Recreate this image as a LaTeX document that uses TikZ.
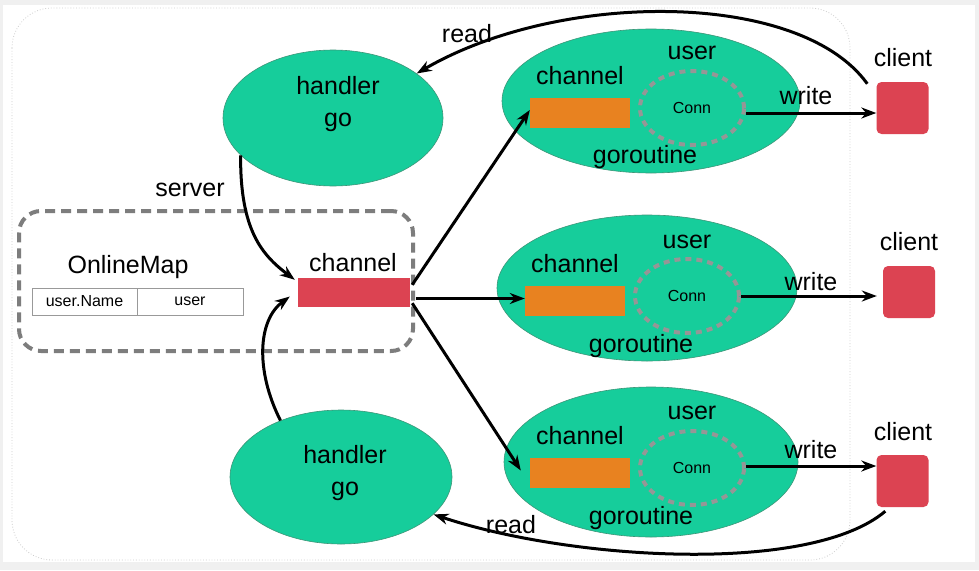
\documentclass[tikz,border=0pt]{standalone}
\usepackage{fontspec}
\setmainfont{Liberation Sans}
\usetikzlibrary{shapes.geometric,arrows.meta}
\definecolor{gr}{RGB}{22,205,155}
\definecolor{grb}{RGB}{60,150,120}
\definecolor{org}{RGB}{232,130,32}
\definecolor{rd}{RGB}{220,67,82}
\definecolor{dg}{RGB}{125,125,125}
\definecolor{dc}{RGB}{150,150,150}
\tikzset{
  big/.style={font=\fontsize{25}{28}\selectfont, inner sep=0pt},
  small/.style={font=\fontsize{16}{18}\selectfont, inner sep=0pt},
  gell/.style={ellipse, fill=gr, draw=grb, line width=0.6pt, inner sep=0pt},
  obox/.style={rectangle, fill=org, inner sep=0pt, minimum width=100pt, minimum height=30pt},
  rbox/.style={rectangle, fill=rd, rounded corners=5pt, inner sep=0pt, minimum width=52pt, minimum height=52pt},
  dcirc/.style={ellipse, draw=dc, dash pattern=on 6pt off 5pt, line width=4pt, inner sep=0pt, minimum width=104pt, minimum height=74pt},
  arr/.style={-{Stealth[length=15pt,width=11pt]}, line width=3pt, black},
  cell/.style={rectangle, draw=gray!80, line width=1pt, inner sep=0pt, minimum height=27pt, font=\fontsize{16}{18}\selectfont}
}
\begin{document}
\begin{tikzpicture}[x=1pt,y=-1pt]
\useasboundingbox (0,0) rectangle (979,570);
\fill[gray!12] (0,0) rectangle (979,570);
\fill[white] (3,5) rectangle (975,562);
\draw[gray!40, dotted, line width=0.8pt, rounded corners=40pt] (12,8) rectangle (850,560);

% OnlineMap box
\node[draw=dg, dash pattern=on 10pt off 6pt, line width=4pt, rounded corners=22pt, minimum width=394pt, minimum height=140pt, inner sep=0pt] (om) at (216,281) {};
\node[big] (omt) at (128,267) {OnlineMap};
\node[cell, minimum width=105pt] (k) at (84.5,301.5) {user.Name};
\node[cell, minimum width=106pt] (v) at (190,301.5) {user};

% central channel
\node[rectangle, fill=rd, minimum width=112pt, minimum height=29pt, inner sep=0pt] (ch) at (354,292.5) {};
\node[big] (cht) at (353,263) {channel};

% handlers
\node[gell, minimum width=220pt, minimum height=136pt] (h1) at (333,118) {};
\node[big, align=center] (h1t) at (338,104) {handler\\[4pt]go};
\node[gell, minimum width=222pt, minimum height=134pt] (h2) at (341,477) {};
\node[big, align=center] (h2t) at (345,473) {handler\\[4pt]go};
\node[big] (sv) at (190,190) {server};

% goroutine 1
\node[gell, minimum width=298pt, minimum height=144pt] (g1) at (651,101) {};
\node[obox] (o1) at (580,113) {};
\node[big] (o1t) at (580,76) {channel};
\node[dcirc] (u1) at (692,108) {};
\node[small] (u1t) at (692,108) {Conn};
\node[big] (u1l) at (692,53) {user};
\node[big] (g1t) at (645,157) {goroutine};
\node[rbox] (c1) at (902.5,108) {};
\node[big] (c1t) at (903,58) {client};
\node[big] (w1) at (806,96) {write};

% goroutine 2
\node[gell, minimum width=300pt, minimum height=146pt] (g2) at (647,288) {};
\node[obox] (o2) at (575,300.5) {};
\node[big] (o2t) at (575,264) {channel};
\node[dcirc] (u2) at (687,296) {};
\node[small] (u2t) at (687,296) {Conn};
\node[big] (u2l) at (687,242) {user};
\node[big] (g2t) at (641,346) {goroutine};
\node[rbox] (c2) at (909,292) {};
\node[big] (c2t) at (909,242) {client};
\node[big] (w2) at (811,282) {write};

% goroutine 3
\node[gell, minimum width=294pt, minimum height=150pt] (g3) at (651,462) {};
\node[obox] (o3) at (580,472.5) {};
\node[big] (o3t) at (580,436) {channel};
\node[dcirc] (u3) at (692,468) {};
\node[small] (u3t) at (692,468) {Conn};
\node[big] (u3l) at (692,413) {user};
\node[big] (g3t) at (641,518) {goroutine};
\node[rbox] (c3) at (902.5,481) {};
\node[big] (c3t) at (903,432) {client};
\node[big] (w3) at (811,450) {write};
\node[big] (r1) at (467,34) {read};
\node[big] (r2) at (511,525) {read};

% connectors
\draw[arr] ([yshift=-5pt]u1.east) -- ([yshift=-5pt]u1.east -| c1.west);
\draw[arr] (u2.east) -- ([xshift=-6pt]u2.east -| c2.west);
\draw[arr] ([yshift=2pt]u3.east) -- ([yshift=2pt]u3.east -| c3.west);
\draw[arr] ([xshift=-9pt,yshift=-2pt]c1.north west) .. controls (800,-10) and (560,-10) .. (h1.28);
\draw[arr] ([xshift=9pt,yshift=-4pt]c3.south west) .. controls (810,575) and (570,560) .. (h2.-22);
\draw[arr] (h1.202) .. controls (240,230) and (262,255) .. ([xshift=-3pt,yshift=-2pt]ch.north west);
\draw[arr] (h2.137) .. controls (255,370) and (258,320) .. ([xshift=-8pt,yshift=-4pt]ch.west);
\draw[arr] ([xshift=2pt,yshift=-7pt]ch.north east) -- ([yshift=3pt]o1.west);
\draw[arr] ([xshift=6pt,yshift=2pt]ch.east |- o2.west) -- ([yshift=2pt]o2.west);
\draw[arr] ([xshift=2pt,yshift=4pt]ch.south east) -- ([xshift=-9pt,yshift=2pt]o3.west);
\end{tikzpicture}
\end{document}
